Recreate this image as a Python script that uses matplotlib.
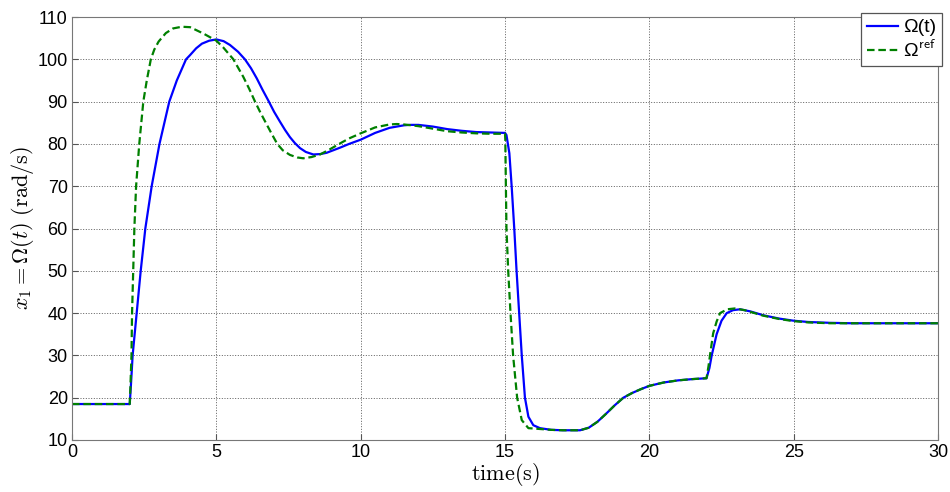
import matplotlib
matplotlib.use("Agg")
import matplotlib.pyplot as plt

# time (s) and speed (rad/s)
t_omega = [0, 2.0, 2.05, 2.10, 2.24, 2.38, 2.54, 2.76, 3.03, 3.37, 3.63, 3.95, 4.09, 4.3, 4.5,
           4.75, 5.0, 5.25, 5.47, 5.75, 5.99, 6.2, 6.4, 6.6, 6.82, 7.0, 7.2, 7.38, 7.55, 7.72,
           7.9, 8.1, 8.36, 8.6, 8.82, 9.05, 9.28, 9.6, 10.0, 10.5, 11.0, 11.5, 11.7, 12.0, 12.5,
           13.0, 13.5, 14.0, 14.5, 15.0, 15.05, 15.15, 15.23, 15.32, 15.40, 15.49, 15.58, 15.69,
           15.81, 15.98, 16.21, 16.6, 17.0, 17.6, 17.9, 18.2, 18.5, 18.8, 19.1, 19.4, 19.7, 20.0,
           20.5, 21.0, 21.5, 21.98, 22.08, 22.16, 22.33, 22.5, 22.68, 22.9, 23.14, 23.5, 23.94,
           24.5, 25.0, 25.5, 26.26, 27.0, 30.0]
omega = [18.5, 18.5, 24, 30, 40, 50, 60, 70, 80, 90, 95, 100, 101, 102.6, 103.7,
         104.4, 104.7, 104.3, 103.4, 101.8, 100, 97.9, 95.5, 92.8, 90, 87.6, 85.3, 83.3, 81.6, 80.2,
         79.0, 78.1, 77.5, 77.6, 77.9, 78.5, 79.1, 80.0, 81.0, 82.6, 83.8, 84.4, 84.5, 84.5, 84.1,
         83.5, 83.1, 82.8, 82.7, 82.6, 82.1, 77.8, 70, 60, 50, 40, 30, 20,
         15.5, 13.5, 12.8, 12.4, 12.3, 12.3, 12.9, 14.3, 16.2, 18.2, 20.0, 21.1, 22.0, 22.8,
         23.6, 24.1, 24.4, 24.6, 27, 30, 35, 38.2, 40, 40.7, 40.9, 40.4, 39.5,
         38.7, 38.2, 37.9, 37.7, 37.6, 37.6]

t_ref = [0, 2.0, 2.02, 2.06, 2.08, 2.12, 2.16, 2.22, 2.33, 2.47, 2.59, 2.73, 2.85, 3.0, 3.25,
         3.5, 3.8, 4.09, 4.55, 5.0, 5.24, 5.59, 5.93, 6.14, 6.34, 6.52, 6.69, 6.9, 7.11, 7.3,
         7.55, 7.8, 8.01, 8.3, 8.59, 8.9, 9.28, 9.6, 10.0, 10.5, 11.0, 11.25, 11.5, 12.0, 12.5,
         13.0, 13.5, 14.0, 14.5, 15.0, 15.01, 15.03, 15.05, 15.11, 15.19, 15.28, 15.42, 15.58,
         15.81, 16.21, 16.6, 17.0, 17.6, 17.9, 18.2, 18.5, 18.8, 19.1, 19.4, 19.7, 20.0,
         20.5, 21.0, 21.5, 21.98, 22.05, 22.1, 22.21, 22.33, 22.45, 22.7, 22.96, 23.3, 23.94,
         24.5, 25.0, 25.5, 26.26, 27.0, 30.0]
omega_ref = [18.5, 18.5, 22, 30, 40, 50, 60, 70, 80, 90, 95, 100, 102.3, 104.2, 106.2,
             107.3, 107.7, 107.6, 106.1, 104.4, 102.8, 100, 95.9, 93, 90, 87.5, 85.3, 82.6, 80, 78.5,
             77.4, 76.8, 76.6, 76.9, 77.5, 78.6, 80.1, 81.3, 82.5, 83.9, 84.6, 84.7, 84.6, 84.2, 83.6,
             83.0, 82.7, 82.5, 82.4, 82.4, 80.9, 70, 60, 50, 40, 30, 20, 14.7,
             12.8, 12.6, 12.4, 12.3, 12.3, 12.9, 14.3, 16.2, 18.2, 20.0, 21.1, 22.0, 22.8,
             23.6, 24.1, 24.4, 24.6, 27.5, 30, 35.2, 38, 40, 40.9, 41.1, 40.7, 39.4,
             38.6, 38.1, 37.8, 37.6, 37.6, 37.6]

xticks = [0, 5, 10, 15, 20, 25, 30]
yticks = [10, 20, 30, 40, 50, 60, 70, 80, 90, 100, 110]

plt.rcParams['font.family'] = ['Liberation Sans', 'DejaVu Sans']
plt.rcParams['mathtext.fontset'] = 'cm'

fig = plt.figure(figsize=(9.5, 4.92), dpi=100)
ax = fig.add_axes([0.0758, 0.1057, 0.9116, 0.8597])

ax.plot(t_omega, omega, color='#0000ff', lw=1.6, label=r'Ω(t)')
ax.plot(t_ref, omega_ref, color='#008000', lw=1.6, ls=(0, (3.4, 1.7)),
        label=r'Ω$^{\mathsf{ref}}$')

ax.set_xlim(0, 30)
ax.set_ylim(10, 110)
ax.set_xticks(xticks)
ax.set_yticks(yticks)
ax.tick_params(direction='in', labelsize=13, length=4, color='#555555', pad=3)
ax.grid(True, color='#444444', ls=(0, (1.2, 2)), lw=0.6)
for sp in ax.spines.values():
    sp.set_color('#777777')
    sp.set_linewidth(0.8)

ax.set_xlabel(r'$\mathrm{time(s)}$', fontsize=16, labelpad=0)
ax.set_ylabel(r'$x_1 = \Omega(t)\ \mathrm{(rad/s)}$', fontsize=16, labelpad=1)

leg = ax.legend(loc='upper right', bbox_to_anchor=(1.0046, 1.0095), fontsize=14,
                fancybox=False, framealpha=1, edgecolor='#555555', handlelength=1.6,
                borderpad=0.3, labelspacing=0.15, handletextpad=0.25, borderaxespad=0)
leg.get_frame().set_linewidth(0.9)

fig.savefig('out.png', dpi=100)
